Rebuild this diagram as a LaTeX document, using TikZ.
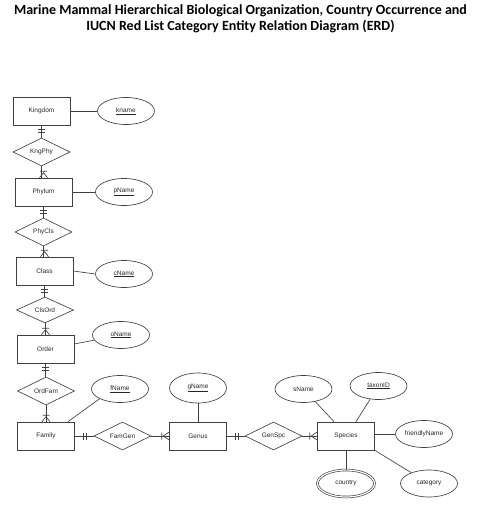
\documentclass[tikz,border=0pt]{standalone}
\usepackage{fontspec}
\setmainfont{Liberation Sans}
\newfontfamily\titlefont{Carlito}
\usetikzlibrary{shapes.geometric,calc}
\newcommand\barsdown[1]{\draw[ln] ([yshift=-4pt]#1.south) ++(-3.5pt,0) -- ++(7pt,0) ([yshift=-7pt]#1.south) ++(-3.5pt,0) -- ++(7pt,0);}
\newcommand\crowtop[1]{\draw[ln] ([yshift=5pt]#1.north) -- ++(-4pt,-5pt) ([yshift=5pt]#1.north) -- ++(4pt,-5pt) ([yshift=6.5pt]#1.north) ++(-3.5pt,0) -- ++(7pt,0);}
\newcommand\barsright[1]{\draw[ln] ([xshift=8pt]#1.east) ++(0,-3.5pt) -- ++(0,7pt) ([xshift=11pt]#1.east) ++(0,-3.5pt) -- ++(0,7pt);}
\newcommand\crowleft[1]{\draw[ln] ([xshift=-6pt]#1.west) -- ++(6pt,-4pt) ([xshift=-6pt]#1.west) -- ++(6pt,4pt) ([xshift=-7.5pt]#1.west) ++(0,-3.5pt) -- ++(0,7pt);}
\begin{document}
\begin{tikzpicture}[x=1pt,y=-1pt,
 every node/.style={font=\fontsize{6.5}{7.5}\selectfont, text=black!85},
 ent/.style={draw=black!75, line width=0.65pt, minimum width=57pt, minimum height=28pt, inner sep=0},
 rel/.style={draw=black!75, line width=0.65pt, diamond, aspect=2, minimum width=57pt, minimum height=28pt, inner sep=0},
 attr/.style={draw=black!75, line width=0.65pt, ellipse, minimum width=57pt, minimum height=27pt, inner sep=0},
 ln/.style={draw=black!75, line width=0.65pt}]
\useasboundingbox (0,0) rectangle (481,508);
\node[font=\titlefont\bfseries\fontsize{14}{16}\selectfont, text=black, align=center] (title) at (240.5,19)
 {Marine Mammal Hierarchical Biological Organization, Country Occurrence and\\IUCN Red List Category Entity Relation Diagram (ERD)};

\node[ent] (kingdom) at (41.5,111) {Kingdom};
\node[attr] (kname) at (126,111) {\underline{kname}};
\node[rel] (kngphy) at (41.5,152) {KngPhy};
\node[ent] (phylum) at (43.5,192) {Phylum};
\node[attr] (pname) at (124,192) {\underline{pName}};
\node[rel] (phycls) at (43.5,232) {PhyCls};
\node[ent] (class) at (44.5,271) {Class};
\node[attr] (cname) at (124,274) {\underline{cName}};
\node[rel, minimum height=26pt] (clsord) at (45,310) {ClsOrd};
\node[ent] (order) at (45.5,349) {Order};
\node[attr] (oname) at (121,335) {\underline{oName}};
\node[rel] (ordfam) at (46,391) {OrdFam};
\node[ent] (family) at (46,436) {Family};
\node[attr] (fname) at (120,389) {\underline{fName}};
\node[rel] (famgen) at (122.5,436) {FamGen};
\node[ent] (genus) at (198,436) {Genus};
\node[attr, minimum height=30pt] (gname) at (198,388) {\underline{gName}};
\node[rel] (genspc) at (273.5,436) {GenSpc};
\node[ent] (species) at (346,436) {Species};
\node[attr] (sname) at (303.5,389) {sName};
\node[attr] (taxonid) at (378.5,386) {\underline{taxonID}};
\node[attr] (friendly) at (424,434) {friendlyName};
\node[attr, double, double distance=1.2pt] (country) at (346,483.5) {country};
\node[attr] (category) at (429,483.5) {category};

% attribute links
\draw[ln] (kingdom.east) -- (kname.west);
\draw[ln] (phylum.east) -- (pname.west);
\draw[ln] (class.east) -- (cname.west);
\draw[ln] ([yshift=5pt]order.east) -- (oname);
\draw[ln] (fname.south west) -- ([xshift=22pt]family.north);
\draw[ln] (gname.south) -- (genus.north);
\draw[ln] (sname) -- ([xshift=-12pt]species.north);
\draw[ln] (taxonid) -- ([xshift=10pt]species.north);
\draw[ln] (species.east |- friendly.west) -- (friendly.west);
\draw[ln] (species.south east) -- (category);
\draw[ln] (species.south) -- (country.north);

% relationship links
\draw[ln] (kingdom.south) -- (kingdom.south |- kngphy.north);
\draw[ln] (kngphy.south) -- (kngphy.south |- phylum.north);
\draw[ln] (phylum.south) -- (phylum.south |- phycls.north);
\draw[ln] (phycls.south) -- (phycls.south |- class.north);
\draw[ln] (class.south) -- (class.south |- clsord.north);
\draw[ln] (clsord.south) -- (clsord.south |- order.north);
\draw[ln] (order.south) -- (order.south |- ordfam.north);
\draw[ln] (ordfam.south) -- (ordfam.south |- family.north);
\draw[ln] (family.east) -- (famgen.west);
\draw[ln] (famgen.east) -- (genus.west);
\draw[ln] (genus.east) -- (genspc.west);
\draw[ln] (genspc.east) -- (species.west);

\barsdown{kingdom}
\barsdown{phylum}
\barsdown{class}
\barsdown{order}
\crowtop{phylum}
\crowtop{class}
\crowtop{order}
\crowtop{family}
\barsright{family}
\barsright{genus}
\crowleft{genus}
\crowleft{species}
\end{tikzpicture}
\end{document}
